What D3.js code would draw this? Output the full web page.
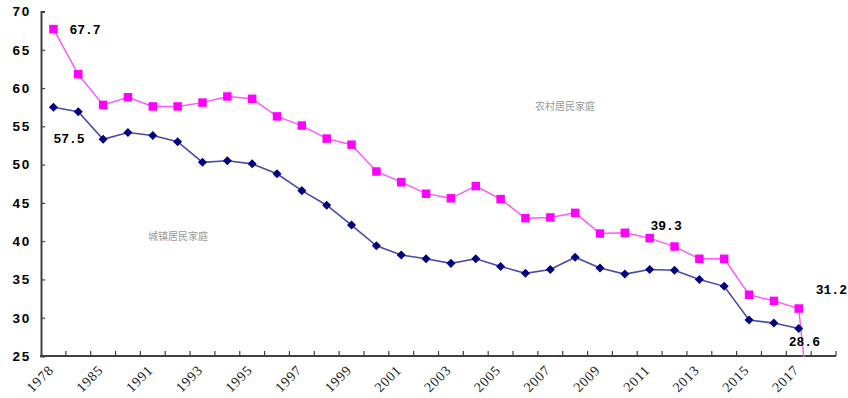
<!DOCTYPE html>
<html>
<head>
<meta charset="utf-8">
<script src="https://cdn.jsdelivr.net/npm/d3@7/dist/d3.min.js"></script>
<style>
  html, body { margin: 0; padding: 0; background: #fff; }
  svg { display: block; }
</style>
</head>
<body>
<svg id="chart" width="848" height="398"></svg>
<script>
// Engel coefficient (%) of rural and urban households, 1978–2017
const years = ["1978","1980","1985","1990","1991","1992","1993","1994","1995","1996",
  "1997","1998","1999","2000","2001","2002","2003","2004","2005","2006",
  "2007","2008","2009","2010","2011","2012","2013","2014","2015","2016","2017",""];

const rural = [67.7, 61.8, 57.8, 58.8, 57.6, 57.6, 58.1, 58.9, 58.6, 56.3,
  55.1, 53.4, 52.6, 49.1, 47.7, 46.2, 45.6, 47.2, 45.5, 43.0,
  43.1, 43.7, 41.0, 41.1, 40.4, 39.3, 37.7, 37.7, 33.0, 32.2, 31.2, 0];

const urban = [57.5, 56.9, 53.3, 54.2, 53.8, 53.0, 50.3, 50.5, 50.1, 48.8,
  46.6, 44.7, 42.1, 39.4, 38.2, 37.7, 37.1, 37.7, 36.7, 35.8,
  36.3, 37.9, 36.5, 35.7, 36.3, 36.2, 35.0, 34.1, 29.7, 29.3, 28.6, null];

const yTicks = [25, 30, 35, 40, 45, 50, 55, 60, 65, 70];
const seriesNames = ["农村居民家庭", "城镇居民家庭"];

const svg = d3.select("#chart");
const plotLeft = 41, plotRight = 836, plotTop = 11.5, plotBottom = 356;

const x = d3.scaleBand().domain(years.map((d, i) => i)).range([plotLeft, plotRight]).padding(0);
const cx = i => x(i) + x.bandwidth() / 2;
const y = d3.scaleLinear().domain([25, 70]).range([plotBottom, plotTop]);

// clip region for the plotted lines
svg.append("defs").append("clipPath").attr("id", "plot")
  .append("rect").attr("x", plotLeft).attr("y", 0)
  .attr("width", plotRight - plotLeft + 10).attr("height", plotBottom + 1);

// y axis
const yAxis = svg.append("g").attr("transform", `translate(${plotLeft},0)`)
  .call(d3.axisLeft(y).tickValues(yTicks).tickSize(-4).tickPadding(10));
yAxis.select(".domain").attr("stroke", "#404040").attr("stroke-width", 2);
yAxis.selectAll(".tick line").attr("stroke", "#404040").attr("stroke-width", 1.2);
yAxis.selectAll(".tick text")
  .attr("font-family", "Liberation Sans, Arial, sans-serif")
  .attr("font-weight", "bold").attr("font-size", 13.5)
  .attr("letter-spacing", 1.8).attr("fill", "#000");

// x axis with ticks at category boundaries
const bounds = d3.range(1, years.length).map(i => x(i));
const xg = svg.append("g");
xg.append("line").attr("x1", plotLeft - 1).attr("x2", plotRight)
  .attr("y1", plotBottom).attr("y2", plotBottom)
  .attr("stroke", "#404040").attr("stroke-width", 2);
xg.selectAll("line.tk").data(bounds.concat([plotRight])).join("line").attr("class", "tk")
  .attr("x1", d => d).attr("x2", d => d).attr("y1", plotBottom).attr("y2", plotBottom - 5)
  .attr("stroke", "#404040").attr("stroke-width", 1.2);

xg.selectAll("text.yr").data(years.map((d, i) => i).filter(i => i % 2 === 0 && years[i] !== ""))
  .join("text").attr("class", "yr")
  .attr("transform", i => `translate(${cx(i) + 1},${plotBottom + 15}) rotate(-45)`)
  .attr("text-anchor", "end")
  .attr("font-family", "Liberation Serif, Times New Roman, serif")
  .attr("font-size", 14).attr("letter-spacing", 0.8).attr("fill", "#222")
  .text(i => years[i]);

// lines
const ruralLine = d3.line().x((d, i) => cx(i)).y(d => y(d));
const urbanLine = d3.line().defined(d => d !== null).x((d, i) => cx(i)).y(d => y(d));

const plot = svg.append("g").attr("clip-path", "url(#plot)");
plot.append("path").datum(urban).attr("d", urbanLine)
  .attr("fill", "none").attr("stroke", "#4a4aa8").attr("stroke-width", 1.6);
plot.append("path").datum(rural).attr("d", ruralLine)
  .attr("fill", "none").attr("stroke", "#ff55ff").attr("stroke-width", 1.4);

// markers
const sq = d3.symbol().type(d3.symbolSquare).size(72);
const dm = d3.symbol().type(d3.symbolDiamond2).size(52);
svg.append("g").selectAll("path").data(urban.map((v, i) => [i, v]).filter(d => d[1] !== null))
  .join("path").attr("d", dm)
  .attr("transform", d => `translate(${cx(d[0])},${y(d[1])})`)
  .attr("fill", "#000080");
svg.append("g").selectAll("path").data(rural.map((v, i) => [i, v]).filter(d => years[d[0]] !== ""))
  .join("path").attr("d", sq)
  .attr("transform", d => `translate(${cx(d[0])},${y(d[1])})`)
  .attr("fill", "#ff00ff");

// value labels
const labels = [
  { s: rural, i: 0, dx: 16, dy: 5 },
  { s: urban, i: 0, dx: 0, dy: 36 },
  { s: rural, i: 25, dx: -24, dy: -17 },
  { s: rural, i: 30, dx: 17, dy: -15 },
  { s: urban, i: 30, dx: -10, dy: 18 }
];
svg.append("g").selectAll("text").data(labels).join("text")
  .attr("x", d => cx(d.i) + d.dx).attr("y", d => y(d.s[d.i]) + d.dy)
  .attr("font-family", "Liberation Mono, DejaVu Sans Mono, monospace")
  .attr("font-weight", "bold").attr("font-size", 13).attr("fill", "#000")
  .text(d => d.s[d.i].toFixed(1));

// series names
svg.append("text").attr("x", 535).attr("y", 110)
  .attr("font-family", "Noto Sans CJK SC, sans-serif").attr("font-size", 10).attr("fill", "#9a9a9a")
  .text(seriesNames[0]);
svg.append("text").attr("x", 148).attr("y", 240)
  .attr("font-family", "Noto Sans CJK SC, sans-serif").attr("font-size", 10).attr("fill", "#9a9a9a")
  .text(seriesNames[1]);
</script>
</body>
</html>
